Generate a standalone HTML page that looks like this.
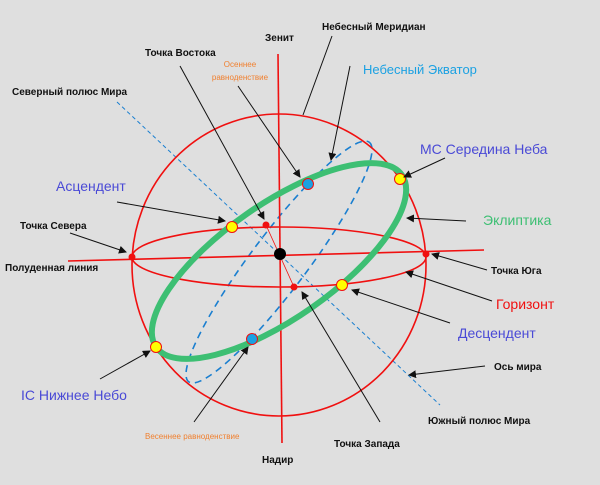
<!DOCTYPE html>
<html><head><meta charset="utf-8"><style>
html,body{margin:0;padding:0;background:#dfdfdf;}
svg{display:block}
text{font-family:"Liberation Sans",sans-serif;}
.k{font-size:10px;font-weight:bold;fill:#111}
.b{font-size:14px;fill:#4a4ad6}
</style></head><body>
<svg width="600" height="485" viewBox="0 0 600 485" xmlns="http://www.w3.org/2000/svg">
<defs><marker id="a" markerWidth="8" markerHeight="8" refX="7" refY="4" orient="auto" markerUnits="userSpaceOnUse"><path d="M0,0 L8,4 L0,8 z" fill="#111"/></marker></defs>
<rect width="600" height="485" fill="#dfdfdf"/>
<!-- axis -->
<line x1="117" y1="102" x2="440" y2="405" stroke="#1a7fd0" stroke-width="1" stroke-dasharray="4,3"/>
<!-- equator -->
<ellipse cx="279" cy="262" rx="150" ry="28" transform="rotate(-53 279 262)" fill="none" stroke="#1a7fd0" stroke-width="1.6" stroke-dasharray="7,5"/>
<!-- circle -->
<ellipse cx="279" cy="265" rx="147" ry="151" fill="none" stroke="#f01010" stroke-width="1.6"/>
<!-- horizon -->
<ellipse cx="279" cy="257" rx="147" ry="30" fill="none" stroke="#f01010" stroke-width="1.6"/>
<line x1="68" y1="261" x2="484" y2="250" stroke="#f01010" stroke-width="1.6"/>
<line x1="278" y1="54" x2="282" y2="443" stroke="#f01010" stroke-width="1.6"/>
<line x1="266" y1="225" x2="294" y2="287" stroke="#f01010" stroke-width="0.8"/>
<!-- ecliptic -->
<ellipse cx="279" cy="261" rx="150" ry="57" transform="rotate(-35 279 261)" fill="none" stroke="#3dbf73" stroke-width="6"/>
<!-- points -->
<circle cx="132" cy="257" r="3.5" fill="#f01010"/>
<circle cx="426" cy="254" r="3.5" fill="#f01010"/>
<circle cx="266" cy="225" r="3.5" fill="#f01010"/>
<circle cx="294" cy="287" r="3.5" fill="#f01010"/>
<circle cx="280" cy="254" r="6" fill="#000"/>
<g stroke="#f01010" stroke-width="1"><circle cx="400" cy="179" r="5.5" fill="#ffff00"/><circle cx="156" cy="347" r="5.5" fill="#ffff00"/><circle cx="232" cy="227" r="5.5" fill="#ffff00"/><circle cx="342" cy="285" r="5.5" fill="#ffff00"/>
<circle cx="308" cy="184" r="5.5" fill="#1ba1e2"/><circle cx="252" cy="339" r="5.5" fill="#1ba1e2"/></g>
<!-- arrows -->
<g stroke="#111" stroke-width="1" fill="none">
<line x1="332" y1="36" x2="303" y2="115"/>
<line x1="180" y1="66" x2="264" y2="219" marker-end="url(#a)"/>
<line x1="238" y1="86" x2="300" y2="177" marker-end="url(#a)"/>
<line x1="350" y1="66" x2="331" y2="160" marker-end="url(#a)"/>
<line x1="445" y1="158" x2="404" y2="177" marker-end="url(#a)"/>
<line x1="117" y1="202" x2="225" y2="221" marker-end="url(#a)"/>
<line x1="466" y1="221" x2="407" y2="218" marker-end="url(#a)"/>
<line x1="70" y1="233" x2="126" y2="252" marker-end="url(#a)"/>
<line x1="487" y1="270" x2="432" y2="254" marker-end="url(#a)"/>
<line x1="492" y1="301" x2="406" y2="272" marker-end="url(#a)"/>
<line x1="450" y1="323" x2="352" y2="290" marker-end="url(#a)"/>
<line x1="485" y1="366" x2="409" y2="375" marker-end="url(#a)"/>
<line x1="100" y1="379" x2="150" y2="351" marker-end="url(#a)"/>
<line x1="194" y1="422" x2="248" y2="347" marker-end="url(#a)"/>
<line x1="380" y1="422" x2="302" y2="292" marker-end="url(#a)"/>
</g>
<!-- labels -->
<text class="k" x="322" y="30">Небесный Меридиан</text>
<text class="k" x="265" y="41">Зенит</text>
<text class="k" x="145" y="56">Точка Востока</text>
<text x="240" y="67" font-size="8" fill="#f08030" text-anchor="middle">Осеннее</text>
<text x="240" y="80" font-size="8" fill="#f08030" text-anchor="middle">равноденствие</text>
<text x="363" y="74" font-size="13" fill="#1ba1e2">Небесный Экватор</text>
<text class="k" x="12" y="95">Северный полюс Мира</text>
<text class="b" x="420" y="154">МС Середина Неба</text>
<text class="b" x="56" y="191">Асцендент</text>
<text x="483" y="225" font-size="14" fill="#3dbf73">Эклиптика</text>
<text class="k" x="20" y="229">Точка Севера</text>
<text class="k" x="5" y="271">Полуденная линия</text>
<text class="k" x="491" y="274">Точка Юга</text>
<text x="496" y="309" font-size="14" fill="#f01010">Горизонт</text>
<text class="b" x="458" y="338">Десцендент</text>
<text class="k" x="494" y="370">Ось мира</text>
<text class="b" x="21" y="400">IC Нижнее Небо</text>
<text class="k" x="428" y="424">Южный полюс Мира</text>
<text x="145" y="439" font-size="8" fill="#f08030">Весеннее равноденствие</text>
<text class="k" x="334" y="447">Точка Запада</text>
<text class="k" x="262" y="463">Надир</text>
</svg>
</body></html>
